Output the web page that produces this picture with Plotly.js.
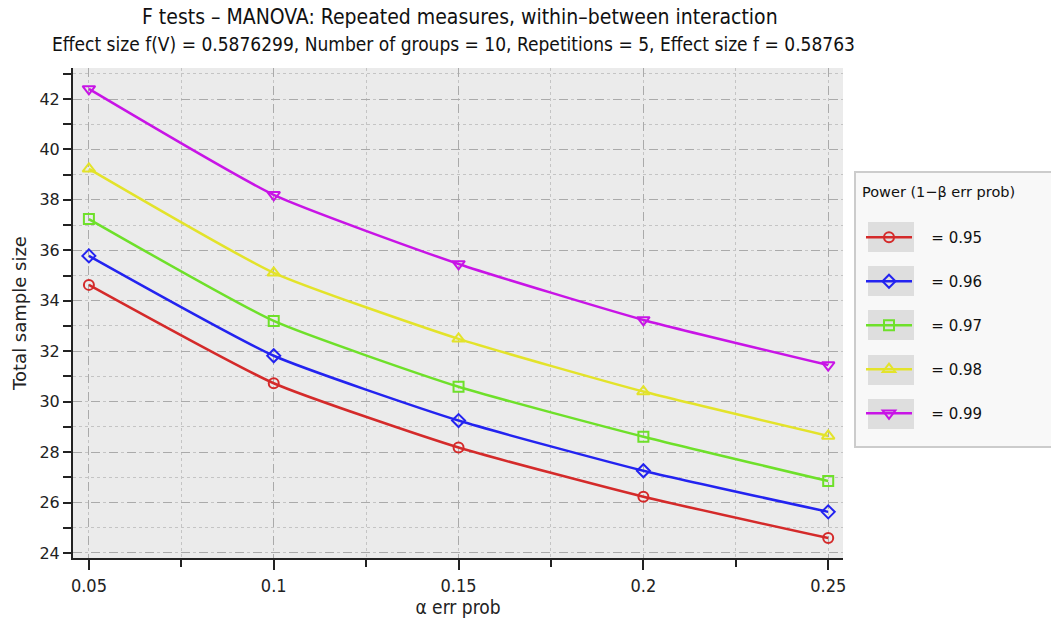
<!DOCTYPE html>
<html>
<head>
<meta charset="utf-8">
<script src="https://cdn.plot.ly/plotly-3.0.1.min.js"></script>
<style>html,body{margin:0;padding:0;background:#fff;}#chart{width:1051px;height:618px;}</style>
</head>
<body>
<div id="chart"></div>
<script>
const alpha = [0.05, 0.1, 0.15, 0.2, 0.25];
const power95 = [34.63, 30.73, 28.18, 26.23, 24.59];
const power96 = [35.78, 31.82, 29.25, 27.26, 25.63];
const power97 = [37.24, 33.20, 30.59, 28.61, 26.85];
const power98 = [39.23, 35.11, 32.49, 30.40, 28.64];
const power99 = [42.40, 38.20, 35.46, 33.24, 31.45];
const seriesNames = ['= 0.95', '= 0.96', '= 0.97', '= 0.98', '= 0.99'];
const yTicks = [24, 26, 28, 30, 32, 34, 36, 38, 40, 42];
const xTicks = [0.05, 0.1, 0.15, 0.2, 0.25];

const series = [power95, power96, power97, power98, power99];
const colors = ['#d42a2a', '#2323f0', '#6ee02a', '#e3e32a', '#c814e6'];
const symbols = ['circle-open', 'diamond-open', 'square-open', 'triangle-up-open', 'triangle-down-open'];
const sizes = [10, 10, 10, 11, 11];

const traces = series.map((ys, i) => ({
  x: alpha, y: ys, type: 'scatter', mode: 'lines+markers',
  name: '\u00a0\u00a0\u00a0' + seriesNames[i], legendgroup: 'g' + i,
  line: {color: colors[i], width: 2.5, shape: 'spline', smoothing: 0.5},
  marker: {symbol: symbols[i], size: sizes[i], color: colors[i], line: {width: 2, color: colors[i]}}
}));

const narrow = '"DejaVu Sans Condensed", "Liberation Sans Narrow", sans-serif';
const dejavu = '"DejaVu Sans", sans-serif';

// plot area in pixels: x 73..843, y 68..558
const px = v => (v - 73) / 770;
const py = v => (558 - v) / 490;

const shapes = [
  {type: 'rect', xref: 'paper', yref: 'paper', x0: px(855), x1: px(1053), y0: py(447), y1: py(172), fillcolor: '#f8f8f8', line: {color: '#cccccc', width: 2}, layer: 'above'}
];
[237, 281, 325, 370, 414].forEach(c => {
  shapes.push({type: 'rect', xref: 'paper', yref: 'paper', x0: px(868), x1: px(914), y0: py(c + 15), y1: py(c - 15), fillcolor: '#dedede', line: {width: 0}, layer: 'above'});
});

const layout = {
  width: 1051, height: 618,
  margin: {l: 73, r: 208, t: 68, b: 60},
  paper_bgcolor: '#ffffff', plot_bgcolor: '#ebebeb',
  showlegend: true,
  shapes: shapes,
  annotations: [
    {text: 'F tests – MANOVA: Repeated measures, within–between interaction', xref: 'paper', yref: 'paper', x: px(460), y: py(17), yanchor: 'middle', showarrow: false, font: {family: narrow, size: 21, color: '#111'}},
    {text: 'Effect size f(V) = 0.5876299, Number of groups = 10, Repetitions = 5, Effect size f = 0.58763', xref: 'paper', yref: 'paper', x: px(453), y: py(44), yanchor: 'middle', showarrow: false, font: {family: narrow, size: 19, color: '#111'}},
    {text: 'Power (1−β err prob)', xref: 'paper', yref: 'paper', x: px(860), xanchor: 'left', y: py(192), yanchor: 'middle', showarrow: false, font: {family: dejavu, size: 14.5, color: '#111'}}
  ],
  xaxis: {
    range: [0.0457, 0.254], tickvals: xTicks, ticktext: xTicks.map(String),
    showline: true, linecolor: '#222', linewidth: 2, mirror: false,
    ticks: 'outside', ticklen: 10, tickwidth: 2, tickcolor: '#222',
    showgrid: true, gridcolor: '#aaaaaa', griddash: 'dash', gridwidth: 1,
    zeroline: false,
    tickfont: {family: narrow, size: 18, color: '#222'},
    title: {text: 'α err prob', font: {family: narrow, size: 19, color: '#222'}, standoff: 4},
    minor: {dtick: 0.025, tick0: 0.05, ticks: 'outside', ticklen: 7, tickwidth: 2, tickcolor: '#222', showgrid: true, gridcolor: '#c4c4c4', griddash: 'dot', gridwidth: 1}
  },
  yaxis: {
    range: [23.8, 43.23], tickvals: yTicks,
    showline: true, linecolor: '#222', linewidth: 2,
    ticks: 'outside', ticklen: 8, tickwidth: 2, tickcolor: '#222',
    showgrid: true, gridcolor: '#aaaaaa', griddash: 'dash', gridwidth: 1,
    zeroline: false,
    tickfont: {family: dejavu, size: 16, color: '#222'},
    title: {text: 'Total sample size', font: {family: dejavu, size: 18, color: '#222'}, standoff: 8},
    minor: {dtick: 1, tick0: 24, ticks: 'outside', ticklen: 8, tickwidth: 2, tickcolor: '#222', showgrid: true, gridcolor: '#c4c4c4', griddash: 'dot', gridwidth: 1}
  },
  legend: {
    x: px(861), xanchor: 'left', y: py(221), yanchor: 'top',
    bgcolor: 'rgba(0,0,0,0)', borderwidth: 0,
    font: {family: dejavu, size: 15, color: '#111'},
    traceorder: 'grouped', tracegroupgap: 21.5, itemwidth: 46
  }
};

Plotly.newPlot('chart', traces, layout, {displayModeBar: false});
</script>
</body>
</html>
